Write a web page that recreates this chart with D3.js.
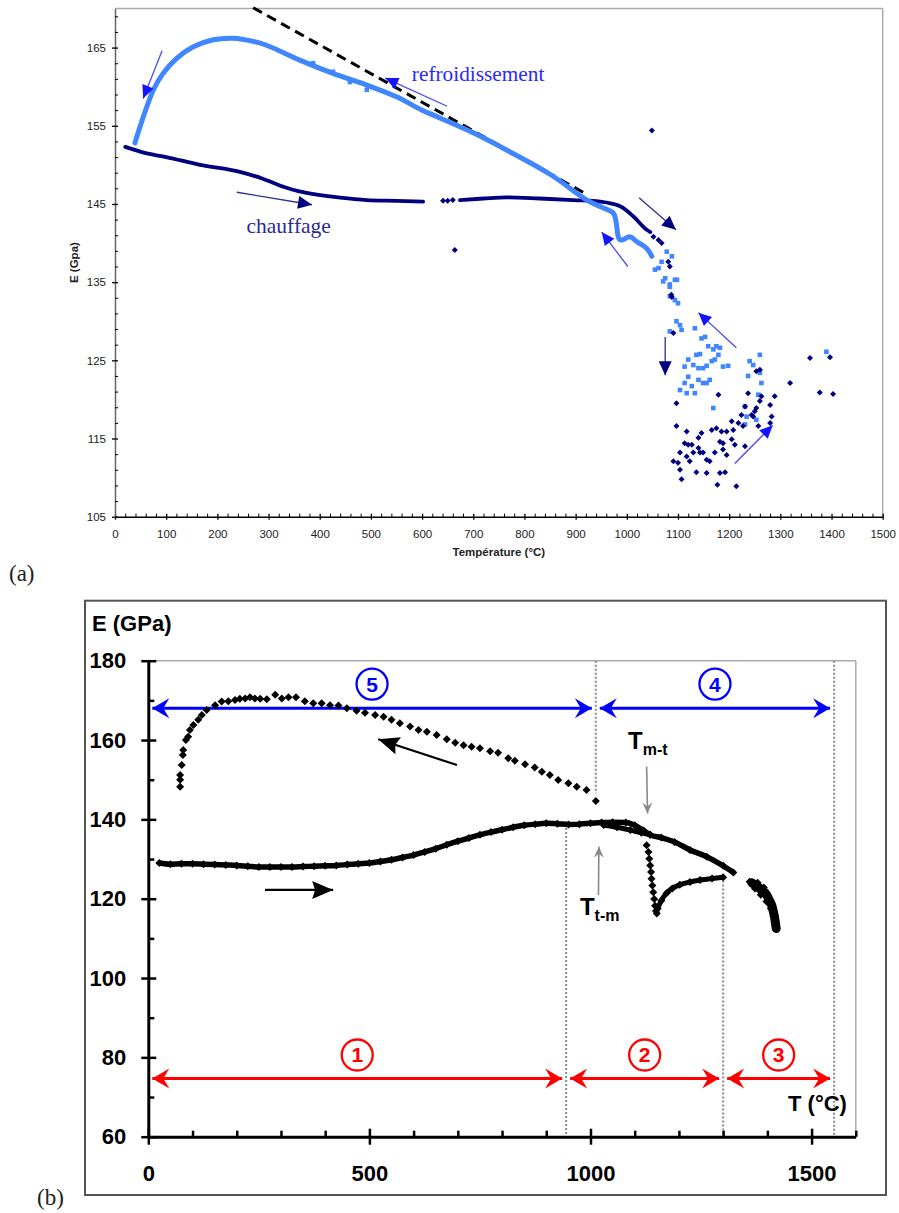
<!DOCTYPE html>
<html><head><meta charset="utf-8">
<script src="https://cdn.jsdelivr.net/npm/d3@7"></script>
<style>body{margin:0;background:#fff}svg{display:block}</style>
</head><body><svg id="c" width="899" height="1213"></svg>
<script>
// ---------------- Panel (a) data ----------------
const aXTicks = [0,100,200,300,400,500,600,700,800,900,1000,1100,1200,1300,1400,1500];
const aYTicks = [105,115,125,135,145,155,165];
// cooling (refroidissement) continuous trace
const aCoolT = [39,49,62,75,94,120,153,192,231,270,296,361,426,492,550,600,635,700,765,850,922,950,974,987,1006,1019,1039,1049];
const aCoolE = [152.8,154.9,157.4,159.6,161.7,163.6,165.1,166.0,166.2,165.8,165.3,163.4,161.7,160.2,158.7,157.0,156.0,154.1,151.9,148.8,145.5,144.6,143.8,140.4,140.8,140.2,139.3,138.3];
// heating (chauffage) traces
const aHeat1T = [20,60,100,166,244,290,329,360,394,440,492,550,602];
const aHeat1E = [152.3,151.5,151.0,150.0,149.1,148.2,147.2,146.6,146.2,145.8,145.5,145.4,145.3];
const aHeat2T = [674,720,765,830,896,948,987,1013,1039,1046];
const aHeat2E = [145.5,145.7,145.85,145.7,145.5,145.3,144.7,143.4,141.7,141.4];
// linear fit (dashed)
const aFitT = [270,920];
const aFitE = [170.1,146.3];
// scattered cooling points (light blue squares)
const aCoolPtT = [387,426,459,492,1078,1088,1068,1062,1055,1075,1098,1084,1071,1084,1094,1084,1094,1100,1097,1104,1107,1084,1133,1146,1153,1159,1169,1175,1182,1136,1143,1120,1113,1130,1140,1149,1156,1166,1172,1179,1188,1198,1120,1140,1149,1156,1162,1104,1113,1117,1127,1133,1169,1240,1247,1260,1237,1260,1263,1257,1231,1234,1231,1253,1390];
const aCoolPtE = [163.0,161.9,160.6,159.6,138.9,138.3,137.6,136.8,136.6,135.5,135.3,134.4,135.1,134.7,135.3,133.2,132.7,132.3,130.0,129.5,128.9,128.7,129.1,127.8,128.0,126.8,126.4,126.8,126.6,125.7,125.8,125.1,124.2,124.4,124.0,124.0,124.3,124.9,125.1,125.7,124.2,124.3,122.9,122.5,122.1,122.1,122.5,121.2,122.1,120.8,121.7,120.8,118.9,124.9,124.4,125.7,123.0,123.4,122.1,120.6,119.1,117.8,116.8,117.4,126.1];
// scattered heating points (navy diamonds)
const aHeatPtT = [641,650,660,664,1049,1052,1062,1068,1081,1084,1088,1087,1091,1097,1097,1117,1113,1120,1127,1104,1091,1100,1104,1107,1117,1123,1130,1140,1146,1140,1143,1149,1156,1162,1136,1156,1172,1166,1175,1182,1188,1179,1188,1195,1185,1195,1205,1208,1205,1211,1182,1192,1177,1214,1218,1224,1227,1231,1231,1237,1244,1247,1250,1253,1257,1260,1263,1280,1283,1280,1289,1260,1253,1319,1358,1377,1397,1403];
const aHeatPtE = [145.4,145.4,145.5,139.1,154.4,140.8,140.4,140.0,137.6,137.0,133.1,133.4,128.5,119.5,116.6,115.9,114.4,114.2,114.2,113.2,112.1,111.9,111.0,109.8,112.7,112.1,113.2,115.1,115.7,113.8,113.2,113.2,112.3,112.1,110.7,110.6,113.2,116.1,116.3,114.6,114.4,120.6,113.6,112.9,115.9,115.9,117.2,116.1,114.9,114.2,110.6,110.7,109.1,108.9,117.0,118.0,116.6,114.0,119.1,120.8,118.0,117.8,118.5,118.9,116.6,119.8,120.4,119.3,117.8,117.0,120.4,123.8,123.6,122.1,125.3,120.9,125.4,120.7];

// ---------------- Panel (b) data ----------------
const bXTicks = [0,500,1000,1500];
const bYTicks = [60,80,100,120,140,160,180];
const bHeatT = [25,50,75,100,125,150,175,200,225,250,275,300,325,350,375,400,425,450,475,500,525,550,575,600,625,650,675,700,725,750,775,800,825,850,875,900,925,950,975,1000,1025,1050,1080,1100,1120,1135,1160,1190,1225,1263,1300,1323];
const bHeatE = [129.0,128.7,128.8,128.8,128.7,128.6,128.5,128.4,128.2,128.0,128.0,128.0,128.0,128.1,128.2,128.3,128.4,128.6,128.8,129.0,129.4,129.8,130.4,131.0,131.8,132.6,133.6,134.5,135.3,136.1,136.8,137.4,138.0,138.5,138.8,139.0,138.9,138.7,138.8,139.0,139.2,139.3,139.2,138.5,137.2,136.1,135.4,134.3,132.3,130.6,128.3,126.6];
const bHeat2T = [1030,1060,1090,1115,1135];
const bHeat2E = [138.6,138.0,137.3,136.6,136.1];
const bDropT = [1127,1131,1133,1135,1137,1138,1140,1142,1144,1146,1148,1150];
const bDropE = [133.5,131.8,130.1,128.4,126.7,125.0,123.3,121.6,119.9,118.2,116.9,116.3];
const bRecT = [1152,1160,1172,1185,1202,1225,1248,1275,1300];
const bRecE = [117.5,119.5,121.4,122.6,123.5,124.2,124.7,125.1,125.4];
const bBlobT = [1365,1375,1385,1395,1400,1405,1410,1413,1416,1418,1420];
const bBlobE = [124.0,123.3,122.4,121.5,120.6,119.5,118.3,117.0,115.5,114.0,112.5];
const bBlob2T = [1360,1372,1385,1398,1408,1414,1419,1378,1392];
const bBlob2E = [124.3,122.6,121.0,119.3,117.5,115.6,113.4,124.0,122.8];
const bCoolT = [72,72,72,75.5,78,79,85,90,94,102,113,121,132,151,166,181,196,207,219,230,241,253,268,287,302,317,334,354,373,392,411,430,449,471,490,513,532,550,569,592,611,630,652,675,694,713,731,750,773,791,814,829,852,874,890,908,927,950,969,991,1012];
const bCoolE = [148.2,150.0,151.2,153.7,156.2,157.5,160.0,160.8,162.5,163.8,165.1,166.3,167.6,168.8,169.7,169.8,170.1,170.4,170.5,170.8,170.5,170.4,170.3,171.4,170.5,170.8,170.8,169.8,169.3,169.3,168.8,168.7,168.0,167.4,166.9,166.3,165.9,165.1,164.2,163.4,162.5,162.1,161.3,160.2,159.3,158.7,158.3,157.9,157.2,156.8,155.4,154.8,153.9,153.1,152.0,151.2,149.9,149.1,148.2,147.4,144.6];
const bZoneT = [0,1012,1551];       // blue zones 5 and 4
const bZoneRedT = [0,945,1300,1551]; // red zones 1,2,3

const zip = (a,b) => a.map((v,i)=>[v,b[i]]);
const svg = d3.select('#c');
const SANS = "Arial, 'Liberation Sans', sans-serif";
const SERIF = "'Times New Roman', 'Liberation Serif', serif";
const fmt = d3.format('d');

// ---------- markers ----------
const defs = svg.append('defs');
function marker(id, d, fill, w){
  defs.append('marker').attr('id',id).attr('viewBox',`${-w} ${-w} ${2*w} ${2*w}`)
    .attr('markerUnits','userSpaceOnUse').attr('markerWidth',2*w).attr('markerHeight',2*w)
    .attr('refX',0).attr('refY',0).attr('orient','auto-start-reverse')
    .append('path').attr('d',d).attr('fill',fill);
}
marker('triBlue','M0,0 L-13,-6 L-13,6 Z','#1414ff',14);
marker('triNavy','M0,0 L-14,-6.5 L-14,6.5 Z','#000080',15);
marker('barbBlue','M0,0 L-17,-10 L-11,0 L-17,10 Z','#0000ff',18);
marker('barbRed','M0,0 L-17,-10 L-11,0 L-17,10 Z','#ff0000',18);
marker('triBlack','M0,0 L-21,-9 L-18,0 L-21,9 Z','#000',22);
marker('barbGray','M0,0 L-11,-5 L-7,0 L-11,5 Z','#888',12);

// ================= PANEL (a) =================
const xa = d3.scaleLinear([0,1500],[115,882.7]);
const ya = d3.scaleLinear([105,170],[516.7,8.5]);
const ga = svg.append('g');

ga.append('line').attr('x1',xa(0)).attr('x2',xa(1500)).attr('y1',ya(170)).attr('y2',ya(170)).attr('stroke','#aaa').attr('stroke-width',1.5);
ga.append('line').attr('x1',xa(1500)).attr('x2',xa(1500)).attr('y1',ya(170)).attr('y2',ya(105)).attr('stroke','#aaa').attr('stroke-width',1.5);

// x axis
const axAx = ga.append('g').attr('transform',`translate(0,${ya(105)})`)
  .call(d3.axisBottom(xa).tickValues(aXTicks).tickFormat(fmt).tickSizeInner(3).tickSizeOuter(0).tickPadding(10));
axAx.select('.domain').attr('stroke','#000').attr('stroke-width',1.5);
axAx.selectAll('.tick line').attr('y1',-3).attr('stroke','#000').attr('stroke-width',1.3);
axAx.selectAll('text').attr('font-family',SANS).attr('font-size',11.5).attr('fill','#222');
const axAxm = ga.append('g').attr('transform',`translate(0,${ya(105)})`)
  .call(d3.axisBottom(xa).tickValues(d3.range(0,1501,20).filter(v=>v%100)).tickFormat(''));
axAxm.select('.domain').remove();
axAxm.selectAll('.tick line').attr('y2',-3).attr('y1',1).attr('stroke','#000');
// y axis
const axAy = ga.append('g').attr('transform',`translate(${xa(0)},0)`)
  .call(d3.axisLeft(ya).tickValues(aYTicks).tickFormat(fmt).tickSizeInner(3).tickSizeOuter(0).tickPadding(6));
axAy.select('.domain').attr('stroke','#666').attr('stroke-width',1.5);
axAy.selectAll('.tick line').attr('x1',3).attr('stroke','#000').attr('stroke-width',1.3);
axAy.selectAll('text').attr('font-family',SANS).attr('font-size',11.5).attr('fill','#222');
const axAym = ga.append('g').attr('transform',`translate(${xa(0)},0)`)
  .call(d3.axisLeft(ya).tickValues(d3.range(105,170,2).filter(v=>(v-105)%10)).tickFormat(''));
axAym.select('.domain').remove();
axAym.selectAll('.tick line').attr('x1',3).attr('x2',0).attr('stroke','#000');

ga.append('text').attr('x',(xa(0)+xa(1500))/2).attr('y',556).attr('text-anchor','middle')
  .attr('font-family',SANS).attr('font-weight','bold').attr('font-size',11.5).attr('fill','#222').text('Température (°C)');
ga.append('text').attr('transform',`translate(78,${(ya(105)+ya(170))/2}) rotate(-90)`).attr('text-anchor','middle')
  .attr('font-family',SANS).attr('font-weight','bold').attr('font-size',11.5).attr('fill','#222').text('E (Gpa)');

const lineA = d3.line().x(d=>xa(d[0])).y(d=>ya(d[1]));
// fit line
ga.append('path').attr('d',lineA(zip(aFitT,aFitE))).attr('fill','none').attr('stroke','#000').attr('stroke-width',3).attr('stroke-dasharray','10,6');
// heating
[zip(aHeat1T,aHeat1E), zip(aHeat2T,aHeat2E)].forEach(d=>{
  ga.append('path').attr('d',lineA.curve(d3.curveMonotoneX)(d)).attr('fill','none').attr('stroke','#000080').attr('stroke-width',3.8).attr('stroke-linecap','round');
});
// cooling
ga.append('path').attr('d',d3.line().x(d=>xa(d[0])).y(d=>ya(d[1])).curve(d3.curveCatmullRom)(zip(aCoolT,aCoolE)))
  .attr('fill','none').attr('stroke','#3f86ff').attr('stroke-width',5).attr('stroke-linecap','round').attr('stroke-linejoin','round');
// scatter
ga.selectAll('rect.cp').data(zip(aCoolPtT,aCoolPtE)).join('rect').attr('class','cp')
  .attr('x',d=>xa(d[0])-2.3).attr('y',d=>ya(d[1])-2.3).attr('width',4.6).attr('height',4.6).attr('fill','#3f86ff');
ga.selectAll('path.hp').data(zip(aHeatPtT,aHeatPtE)).join('path').attr('class','hp')
  .attr('transform',d=>`translate(${xa(d[0])},${ya(d[1])})`).attr('d','M0,-3 L3,0 L0,3 L-3,0Z').attr('fill','#000080');

// arrows (data coordinates)
const aArrows = [
  {f:[92,164.6],t:[55,158.5],c:'blue'},
  {f:[649,157.5],t:[528,161.1],c:'blue'},
  {f:[238,146.5],t:[385,144.9],c:'navy'},
  {f:[1024,145.8],t:[1096,141.7],c:'navy'},
  {f:[1002,137.0],t:[951,141.4],c:'blue'},
  {f:[1075,128.0],t:[1075,123.1],c:'navy'},
  {f:[1214,126.6],t:[1140,131.1],c:'blue'},
  {f:[1211,111.8],t:[1285,116.7],c:'blue'}
];
aArrows.forEach(a=>{
  ga.append('line').attr('x1',xa(a.f[0])).attr('y1',ya(a.f[1])).attr('x2',xa(a.t[0])).attr('y2',ya(a.t[1]))
    .attr('stroke',a.c==='blue'?'#4a4af0':'#303090').attr('stroke-width',1.3)
    .attr('marker-end',a.c==='blue'?'url(#triBlue)':'url(#triNavy)');
});
ga.append('text').attr('x',xa(580)).attr('y',ya(160.7)).attr('font-family',SERIF).attr('font-size',21.3).attr('fill','#2a2aff').text('refroidissement');
ga.append('text').attr('x',xa(257)).attr('y',ya(141.3)).attr('font-family',SERIF).attr('font-size',21.5).attr('fill','#2b2b90').text('chauffage');
svg.append('text').attr('x',9).attr('y',581).attr('font-family',SERIF).attr('font-size',23).attr('fill','#222').text('(a)');

// ================= PANEL (b) =================
const xb = d3.scaleLinear([0,1600],[148.3,855.8]);
const yb = d3.scaleLinear([60,180],[1136.7,660.7]);
const gb = svg.append('g');
gb.append('rect').attr('x',85).attr('y',600.7).attr('width',801).attr('height',594.3).attr('fill','none').attr('stroke','#555').attr('stroke-width',2);
gb.append('line').attr('x1',xb(0)).attr('x2',xb(1600)).attr('y1',yb(180)).attr('y2',yb(180)).attr('stroke','#aaa').attr('stroke-width',1.5);
gb.append('line').attr('x1',xb(1600)).attr('x2',xb(1600)).attr('y1',yb(180)).attr('y2',yb(60)).attr('stroke','#aaa').attr('stroke-width',1.5);

// dotted guides
const guides = [[1012,180,146.5],[1551,180,60],[945,137.8,60],[1300,125.6,60]];
guides.forEach(g=>gb.append('line').attr('x1',xb(g[0])).attr('x2',xb(g[0])).attr('y1',yb(g[1])).attr('y2',yb(g[2]))
  .attr('stroke','#8a8a8a').attr('stroke-width',2).attr('stroke-dasharray','2,2'));

// axes
const bx = gb.append('g').attr('transform',`translate(0,${yb(60)})`)
  .call(d3.axisBottom(xb).tickValues(bXTicks).tickFormat(fmt).tickSizeInner(8).tickSizeOuter(0).tickPadding(21));
bx.select('.domain').attr('stroke','#000').attr('stroke-width',3);
bx.selectAll('.tick line').attr('y1',-8).attr('stroke','#000').attr('stroke-width',2.5);
bx.selectAll('text').attr('font-family',SANS).attr('font-weight','bold').attr('font-size',22).attr('fill','#000');
const bxm = gb.append('g').attr('transform',`translate(0,${yb(60)})`)
  .call(d3.axisBottom(xb).tickValues(d3.range(100,1601,100).filter(v=>v%500)).tickFormat(''));
bxm.select('.domain').remove();
bxm.selectAll('.tick line').attr('y1',0).attr('y2',-6).attr('stroke','#000').attr('stroke-width',2.5);

const by = gb.append('g').attr('transform',`translate(${xb(0)},0)`)
  .call(d3.axisLeft(yb).tickValues(bYTicks).tickFormat(fmt).tickSizeInner(7).tickSizeOuter(0).tickPadding(15));
by.select('.domain').attr('stroke','#000').attr('stroke-width',3);
by.selectAll('.tick line').attr('x1',8).attr('stroke','#000').attr('stroke-width',2.5);
by.selectAll('text').attr('font-family',SANS).attr('font-weight','bold').attr('font-size',22).attr('fill','#000');
const bym = gb.append('g').attr('transform',`translate(${xb(0)},0)`)
  .call(d3.axisLeft(yb).tickValues(d3.range(70,180,20)).tickFormat(''));
bym.select('.domain').remove();
bym.selectAll('.tick line').attr('x1',0).attr('x2',6).attr('stroke','#000').attr('stroke-width',2.5);

gb.append('text').attr('x',92).attr('y',631).attr('font-family',SANS).attr('font-weight','bold').attr('font-size',22).text('E (GPa)');
gb.append('text').attr('x',788).attr('y',1111).attr('font-family',SANS).attr('font-weight','bold').attr('font-size',22).text('T (°C)');

// zone arrows
function zoneArrow(t0,t1,e,col,mk){
  gb.append('line').attr('x1',xb(t0)+4).attr('x2',xb(t1)-4).attr('y1',yb(e)).attr('y2',yb(e))
    .attr('stroke',col).attr('stroke-width',3).attr('marker-start',`url(#${mk})`).attr('marker-end',`url(#${mk})`);
}
function circleNum(t,e,txt,col){
  gb.append('ellipse').attr('cx',xb(t)).attr('cy',yb(e)).attr('rx',15.5).attr('ry',15.5).attr('fill','none').attr('stroke',col).attr('stroke-width',2.3);
  gb.append('text').attr('x',xb(t)).attr('y',yb(e)+7.5).attr('text-anchor','middle').attr('font-family',SANS).attr('font-weight','bold').attr('font-size',21).attr('fill',col).text(txt);
}
zoneArrow(bZoneT[0],bZoneT[1],168,'#0000ff','barbBlue');
zoneArrow(bZoneT[1],bZoneT[2],168,'#0000ff','barbBlue');
circleNum((bZoneT[0]+bZoneT[1])/2,174.1,'5','#0000ff');
circleNum((bZoneT[1]+bZoneT[2])/2,174.1,'4','#0000ff');
const redLbl = ['1','2','3'];
for(let i=0;i<3;i++){
  zoneArrow(bZoneRedT[i],bZoneRedT[i+1],74.7,'#ff0000','barbRed');
  circleNum((bZoneRedT[i]+bZoneRedT[i+1])/2,80.6,redLbl[i],'#ff0000');
}

// data marks
const diamond = 'M0,-4 L4,0 L0,4 L-4,0Z';
const lineB = d3.line().x(d=>xb(d[0])).y(d=>yb(d[1])).curve(d3.curveMonotoneX);
function thick(T,E,w){
  const d = zip(T,E);
  gb.append('path').attr('d',lineB(d)).attr('fill','none').attr('stroke','#000').attr('stroke-width',w).attr('stroke-linecap','round');
  gb.selectAll(null).data(d).join('path').attr('transform',p=>`translate(${xb(p[0])},${yb(p[1])})`).attr('d',diamond).attr('fill','#000');
}
thick(bHeatT,bHeatE,5.5);
thick(bHeat2T,bHeat2E,5);
thick(bRecT,bRecE,5);
gb.append('path').attr('d',d3.line().x(d=>xb(d[0])).y(d=>yb(d[1])).curve(d3.curveCatmullRom)(zip(bBlobT,bBlobE))).attr('fill','none').attr('stroke','#000').attr('stroke-width',9).attr('stroke-linecap','round');
gb.selectAll(null).data(zip(bBlob2T,bBlob2E).concat(zip(bBlobT,bBlobE))).join('path').attr('transform',p=>`translate(${xb(p[0])},${yb(p[1])})`).attr('d',diamond).attr('fill','#000');
gb.selectAll(null).data(zip(bDropT,bDropE)).join('path').attr('transform',p=>`translate(${xb(p[0])},${yb(p[1])})`).attr('d',diamond).attr('fill','#000');
gb.selectAll(null).data(zip(bCoolT,bCoolE)).join('path').attr('transform',p=>`translate(${xb(p[0])},${yb(p[1])})`).attr('d',diamond).attr('fill','#000');

// black direction arrows
gb.append('line').attr('x1',xb(264)).attr('y1',yb(122.2)).attr('x2',xb(418)).attr('y2',yb(122.2)).attr('stroke','#000').attr('stroke-width',2.2).attr('marker-end','url(#triBlack)');
gb.append('line').attr('x1',xb(698)).attr('y1',yb(153.7)).attr('x2',xb(520)).attr('y2',yb(160.2)).attr('stroke','#000').attr('stroke-width',2.2).attr('marker-end','url(#triBlack)');
// gray transition arrows
gb.append('line').attr('x1',xb(1127)).attr('y1',yb(153.3)).attr('x2',xb(1129)).attr('y2',yb(141.5)).attr('stroke','#888').attr('stroke-width',1.6).attr('marker-end','url(#barbGray)');
gb.append('line').attr('x1',xb(1018)).attr('y1',yb(120.9)).attr('x2',xb(1019)).attr('y2',yb(133.1)).attr('stroke','#888').attr('stroke-width',1.6).attr('marker-end','url(#barbGray)');
function tLabel(t,e,sub){
  const tx = gb.append('text').attr('x',xb(t)).attr('y',yb(e)).attr('font-family',SANS).attr('font-weight','bold').attr('font-size',24);
  tx.append('tspan').text('T');
  tx.append('tspan').attr('dy',6).attr('font-size',16).text(sub);
}
tLabel(1085,157.7,'m-t');
tLabel(976,115.8,'t-m');

svg.append('text').attr('x',37).attr('y',1205).attr('font-family',SERIF).attr('font-size',23).attr('fill','#222').text('(b)');
</script>
</body></html>
